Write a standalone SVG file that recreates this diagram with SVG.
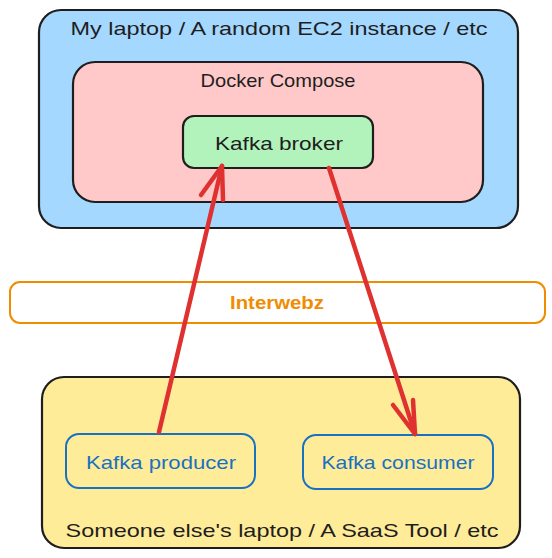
<svg xmlns="http://www.w3.org/2000/svg" width="552" height="558" viewBox="0 0 552 558">
<style>
.box{stroke:#1e1e1e;stroke-width:2.2;stroke-linejoin:round}
.t{font-family:"Liberation Sans",Arial,sans-serif;font-size:19px;fill:#1e1e1e;text-anchor:middle;dominant-baseline:central}
.blue{fill:#1971c2}
.orange{fill:#f08c00}
.arrow{stroke:#e03131;stroke-width:4.5;fill:none;stroke-linecap:round;stroke-linejoin:round}
</style>
<rect width="552" height="558" fill="#ffffff"/>
<g id="host">
<rect class="box" x="39" y="10" width="479" height="218" rx="22" fill="#a5d8ff"/>
<text class="t" x="279" y="28" textLength="417" lengthAdjust="spacingAndGlyphs">My laptop / A random EC2 instance / etc</text>
</g>
<g id="compose">
<rect class="box" x="73" y="62" width="410" height="140" rx="22" fill="#ffc9c9"/>
<text class="t" x="278" y="80" textLength="155" lengthAdjust="spacingAndGlyphs">Docker Compose</text>
</g>
<g id="broker">
<rect class="box" x="183" y="116" width="190" height="52" rx="11" fill="#b2f2bb"/>
<text class="t" x="279" y="143" textLength="128" lengthAdjust="spacingAndGlyphs">Kafka broker</text>
</g>
<g id="interwebz">
<rect x="10" y="282" width="535" height="41" rx="10" fill="#ffffff" stroke="#f08c00" stroke-width="2"/>
<text class="t orange" x="277" y="302" font-weight="bold" textLength="94" lengthAdjust="spacingAndGlyphs">Interwebz</text>
</g>
<g id="client">
<rect class="box" x="42" y="377" width="478" height="171" rx="22" fill="#ffec99"/>
<text class="t" x="282" y="530" textLength="433" lengthAdjust="spacingAndGlyphs">Someone else's laptop / A SaaS Tool / etc</text>
</g>
<g id="producer">
<rect x="66" y="434" width="189" height="54" rx="13" fill="none" stroke="#1971c2" stroke-width="2"/>
<text class="t blue" x="161" y="462" textLength="150" lengthAdjust="spacingAndGlyphs">Kafka producer</text>
</g>
<g id="consumer">
<rect x="303" y="435" width="190" height="54" rx="13" fill="none" stroke="#1971c2" stroke-width="2"/>
<text class="t blue" x="398" y="462" textLength="153" lengthAdjust="spacingAndGlyphs">Kafka consumer</text>
</g>
<g id="connectors">
<path class="arrow" d="M159 432 L222 166"/>
<path class="arrow" d="M201 195 L222 166 L223 200"/>
<path class="arrow" d="M329 168 L415 434"/>
<path class="arrow" d="M393 405 L415 434 L413 400"/>
</g>
</svg>
